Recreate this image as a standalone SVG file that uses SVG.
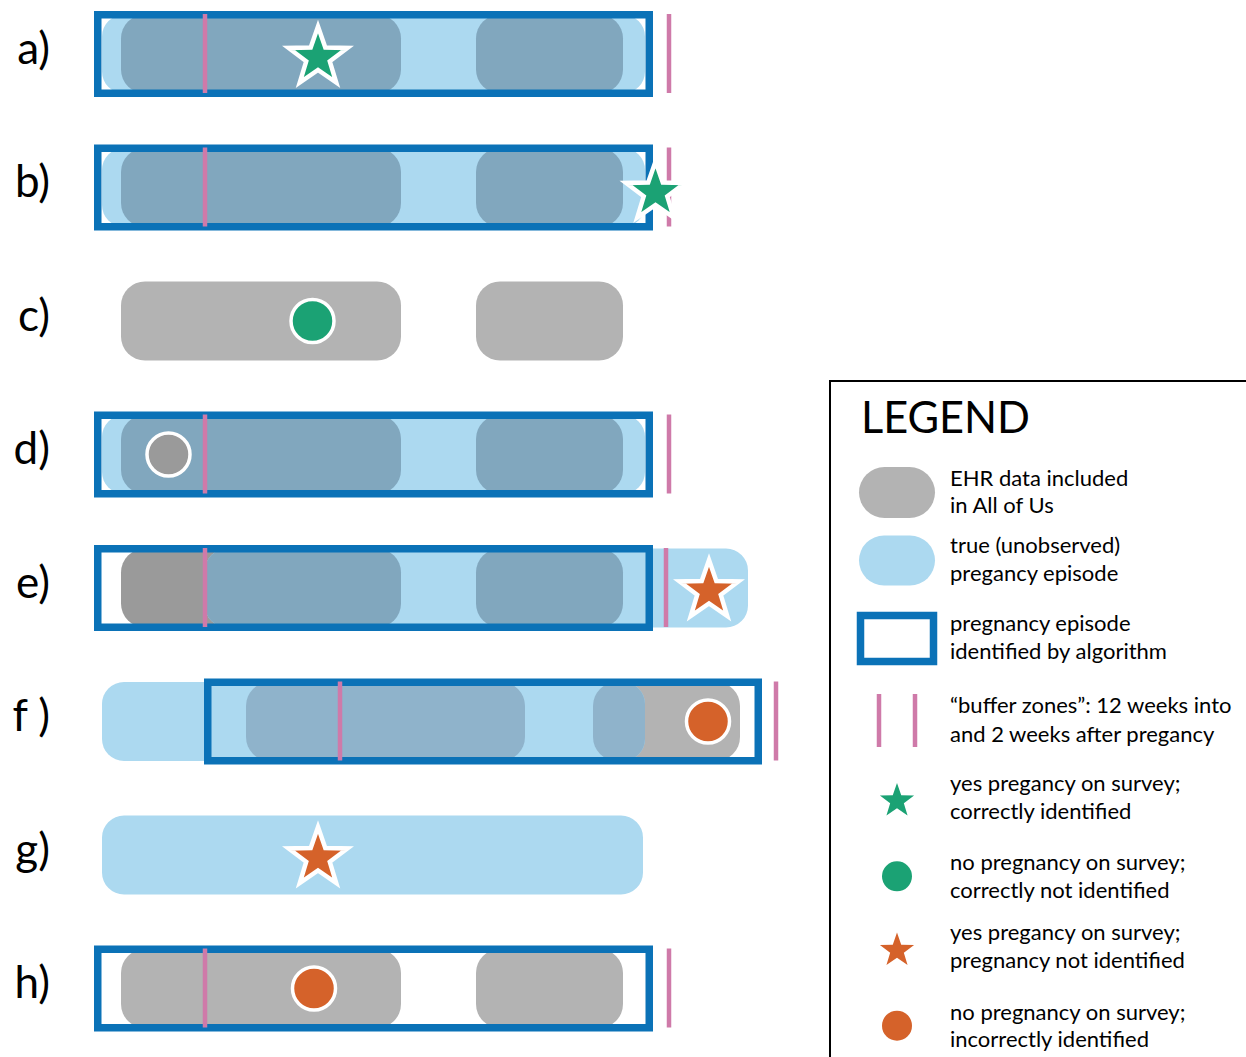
<svg xmlns="http://www.w3.org/2000/svg" xmlns:xlink="http://www.w3.org/1999/xlink" width="1246" height="1057" viewBox="0 0 1246 1057">
<style>
  .lb{fill:#acd9f0}
  .gr{fill:#b3b3b3}
  .dg{fill:#9a9a9a}
  .ov{fill:#81a7be}
  .ovf{fill:#8fb3cb}
  .box{fill:none;stroke:#0b72b7;stroke-width:7.5}
  .pk{stroke:#cf7aa9;stroke-width:4.5}
  .lbl{font-family:Lato,"Open Sans",sans-serif;font-size:44px;fill:#000;text-anchor:end}
  .lg{font-family:Lato,"Open Sans",sans-serif;font-size:22px;fill:#000}
  .gs{fill:#1ba274;stroke:#fff;stroke-width:4.5}
  .os{fill:#d5622a;stroke:#fff;stroke-width:4.5}
  .gc{fill:#1ba274;stroke:#fff;stroke-width:3.5}
  .oc{fill:#d5622a;stroke:#fff;stroke-width:3.5}
  .hc{fill:#9a9a9a;stroke:#fff;stroke-width:3.5}
</style>
<defs>
  <path id="star" d="M0,-31 L7.29,-10.03 L29.48,-9.58 L11.79,3.83 L18.22,25.08 L0,12.4 L-18.22,25.08 L-11.79,3.83 L-29.48,-9.58 L-7.29,-10.03 Z"/>
  <clipPath id="clipA"><rect x="102" y="-39.5" width="543" height="79" rx="22"/></clipPath>
  <clipPath id="clipE"><rect x="205" y="-39.5" width="543" height="79" rx="22"/></clipPath>
  <clipPath id="clipF"><rect x="102" y="-39.5" width="543" height="79" rx="22"/></clipPath>
</defs>
<rect width="1246" height="1057" fill="#fff"/>

<g id="labels">
  <text class="lbl" x="50" y="64">a)</text>
  <text class="lbl" x="50" y="197">b)</text>
  <text class="lbl" x="50" y="331">c)</text>
  <text class="lbl" x="50" y="464">d)</text>
  <text class="lbl" x="50" y="598">e)</text>
  <text class="lbl" x="50" y="731">f )</text>
  <text class="lbl" x="50" y="865">g)</text>
  <text class="lbl" x="50" y="998">h)</text>
</g>

<g id="row-a" transform="translate(0,54)">
  <rect class="lb" x="102" y="-39.5" width="543" height="79" rx="22"/>
  <g clip-path="url(#clipA)">
    <rect class="ov" x="121" y="-39.5" width="280" height="79" rx="24"/>
    <rect class="ov" x="476" y="-39.5" width="147" height="79" rx="24"/>
  </g>
  <rect class="box" x="97.75" y="-39.25" width="551.5" height="78.5"/>
  <line class="pk" x1="205" y1="-40" x2="205" y2="39"/>
  <line class="pk" x1="669" y1="-40" x2="669" y2="39"/>
  <use href="#star" class="gs" x="318" y="3.5"/>
</g>

<g id="row-b" transform="translate(0,187.5)">
  <rect class="lb" x="102" y="-39.5" width="543" height="79" rx="22"/>
  <g clip-path="url(#clipA)">
    <rect class="ov" x="121" y="-39.5" width="280" height="79" rx="24"/>
    <rect class="ov" x="476" y="-39.5" width="147" height="79" rx="24"/>
  </g>
  <rect class="box" x="97.75" y="-39.25" width="551.5" height="78.5"/>
  <line class="pk" x1="205" y1="-40" x2="205" y2="39"/>
  <line class="pk" x1="669" y1="-40" x2="669" y2="39"/>
  <use href="#star" class="gs" x="655.5" y="5"/>
</g>

<g id="row-c" transform="translate(0,321)">
  <rect class="gr" x="121" y="-39.5" width="280" height="79" rx="24"/>
  <rect class="gr" x="476" y="-39.5" width="147" height="79" rx="24"/>
  <circle class="gc" cx="312.5" cy="0" r="21.5"/>
</g>

<g id="row-d" transform="translate(0,454.5)">
  <rect class="lb" x="102" y="-39.5" width="543" height="79" rx="22"/>
  <g clip-path="url(#clipA)">
    <rect class="ov" x="121" y="-39.5" width="280" height="79" rx="24"/>
    <rect class="ov" x="476" y="-39.5" width="147" height="79" rx="24"/>
  </g>
  <rect class="box" x="97.75" y="-39.25" width="551.5" height="78.5"/>
  <line class="pk" x1="205" y1="-40" x2="205" y2="39"/>
  <line class="pk" x1="669" y1="-40" x2="669" y2="39"/>
  <circle class="hc" cx="168.5" cy="0" r="21.5"/>
</g>

<g id="row-e" transform="translate(0,588)">
  <rect class="dg" x="121" y="-39.5" width="280" height="79" rx="24"/>
  <rect class="lb" x="205" y="-39.5" width="543" height="79" rx="22"/>
  <g clip-path="url(#clipE)">
    <rect class="ov" x="121" y="-39.5" width="280" height="79" rx="24"/>
    <rect class="ov" x="476" y="-39.5" width="147" height="79" rx="24"/>
  </g>
  <rect class="box" x="97.75" y="-39.25" width="551.5" height="78.5"/>
  <line class="pk" x1="205" y1="-40" x2="205" y2="39"/>
  <line class="pk" x1="666" y1="-40" x2="666" y2="39"/>
  <use href="#star" class="os" x="709" y="3"/>
</g>

<g id="row-f" transform="translate(0,721.5)">
  <rect class="gr" x="246" y="-39.5" width="279" height="79" rx="24"/>
  <rect class="gr" x="593" y="-39.5" width="147" height="79" rx="24"/>
  <rect class="lb" x="102" y="-39.5" width="543" height="79" rx="22"/>
  <g clip-path="url(#clipF)">
    <rect class="ovf" x="246" y="-39.5" width="279" height="79" rx="24"/>
    <rect class="ovf" x="593" y="-39.5" width="147" height="79" rx="24"/>
  </g>
  <rect class="box" x="207.75" y="-39.25" width="550.5" height="78.5"/>
  <line class="pk" x1="340" y1="-40" x2="340" y2="39"/>
  <line class="pk" x1="776" y1="-40" x2="776" y2="39"/>
  <circle class="oc" cx="708" cy="0" r="21.5"/>
</g>

<g id="row-g" transform="translate(0,855)">
  <rect class="lb" x="102" y="-39.5" width="541" height="79" rx="22"/>
  <use href="#star" class="os" x="318" y="3"/>
</g>

<g id="row-h" transform="translate(0,988.5)">
  <rect class="gr" x="121" y="-39.5" width="280" height="79" rx="24"/>
  <rect class="gr" x="476" y="-39.5" width="147" height="79" rx="24"/>
  <rect class="box" x="97.75" y="-39.25" width="551.5" height="78.5"/>
  <line class="pk" x1="205" y1="-40" x2="205" y2="39"/>
  <line class="pk" x1="669" y1="-40" x2="669" y2="39"/>
  <circle class="oc" cx="314" cy="0" r="21.5"/>
</g>

<g id="legend">
  <path d="M1246,381 H830 V1057" fill="none" stroke="#000" stroke-width="2"/>
  <text x="861" y="432.5" font-family="Lato, 'Open Sans', sans-serif" font-size="44" textLength="169" lengthAdjust="spacingAndGlyphs">LEGEND</text>
  <rect class="gr" x="859" y="467" width="76" height="51" rx="25.5"/>
  <text class="lg" x="950" y="485.5">EHR data included</text>
  <text class="lg" x="950" y="513">in All of Us</text>
  <rect class="lb" x="859" y="535.5" width="76" height="50" rx="25"/>
  <text class="lg" x="950" y="553">true (unobserved)</text>
  <text class="lg" x="950" y="581">pregancy episode</text>
  <rect class="box" x="860.5" y="615.5" width="73" height="46" stroke-width="7"/>
  <text class="lg" x="950" y="631">pregnancy episode</text>
  <text class="lg" x="950" y="658.5">identified by algorithm</text>
  <line class="pk" x1="879" y1="694" x2="879" y2="747" stroke-width="5"/>
  <line class="pk" x1="915" y1="694" x2="915" y2="747" stroke-width="5"/>
  <text class="lg" x="950" y="713">“buffer zones”: 12 weeks into</text>
  <text class="lg" x="950" y="741.5">and 2 weeks after pregancy</text>
  <use href="#star" fill="#1ba274" transform="translate(897,801) scale(0.58)"/>
  <text class="lg" x="950" y="791">yes pregancy on survey;</text>
  <text class="lg" x="950" y="818.5">correctly identified</text>
  <circle cx="897" cy="876.3" r="15" fill="#1ba274"/>
  <text class="lg" x="950" y="870">no pregnancy on survey;</text>
  <text class="lg" x="950" y="897.5">correctly not identified</text>
  <use href="#star" fill="#d5622a" transform="translate(897,950.5) scale(0.58)"/>
  <text class="lg" x="950" y="940">yes pregancy on survey;</text>
  <text class="lg" x="950" y="967.5">pregnancy not identified</text>
  <circle cx="897" cy="1025.7" r="15" fill="#d5622a"/>
  <text class="lg" x="950" y="1019.5">no pregnancy on survey;</text>
  <text class="lg" x="950" y="1047">incorrectly identified</text>
</g>
</svg>
